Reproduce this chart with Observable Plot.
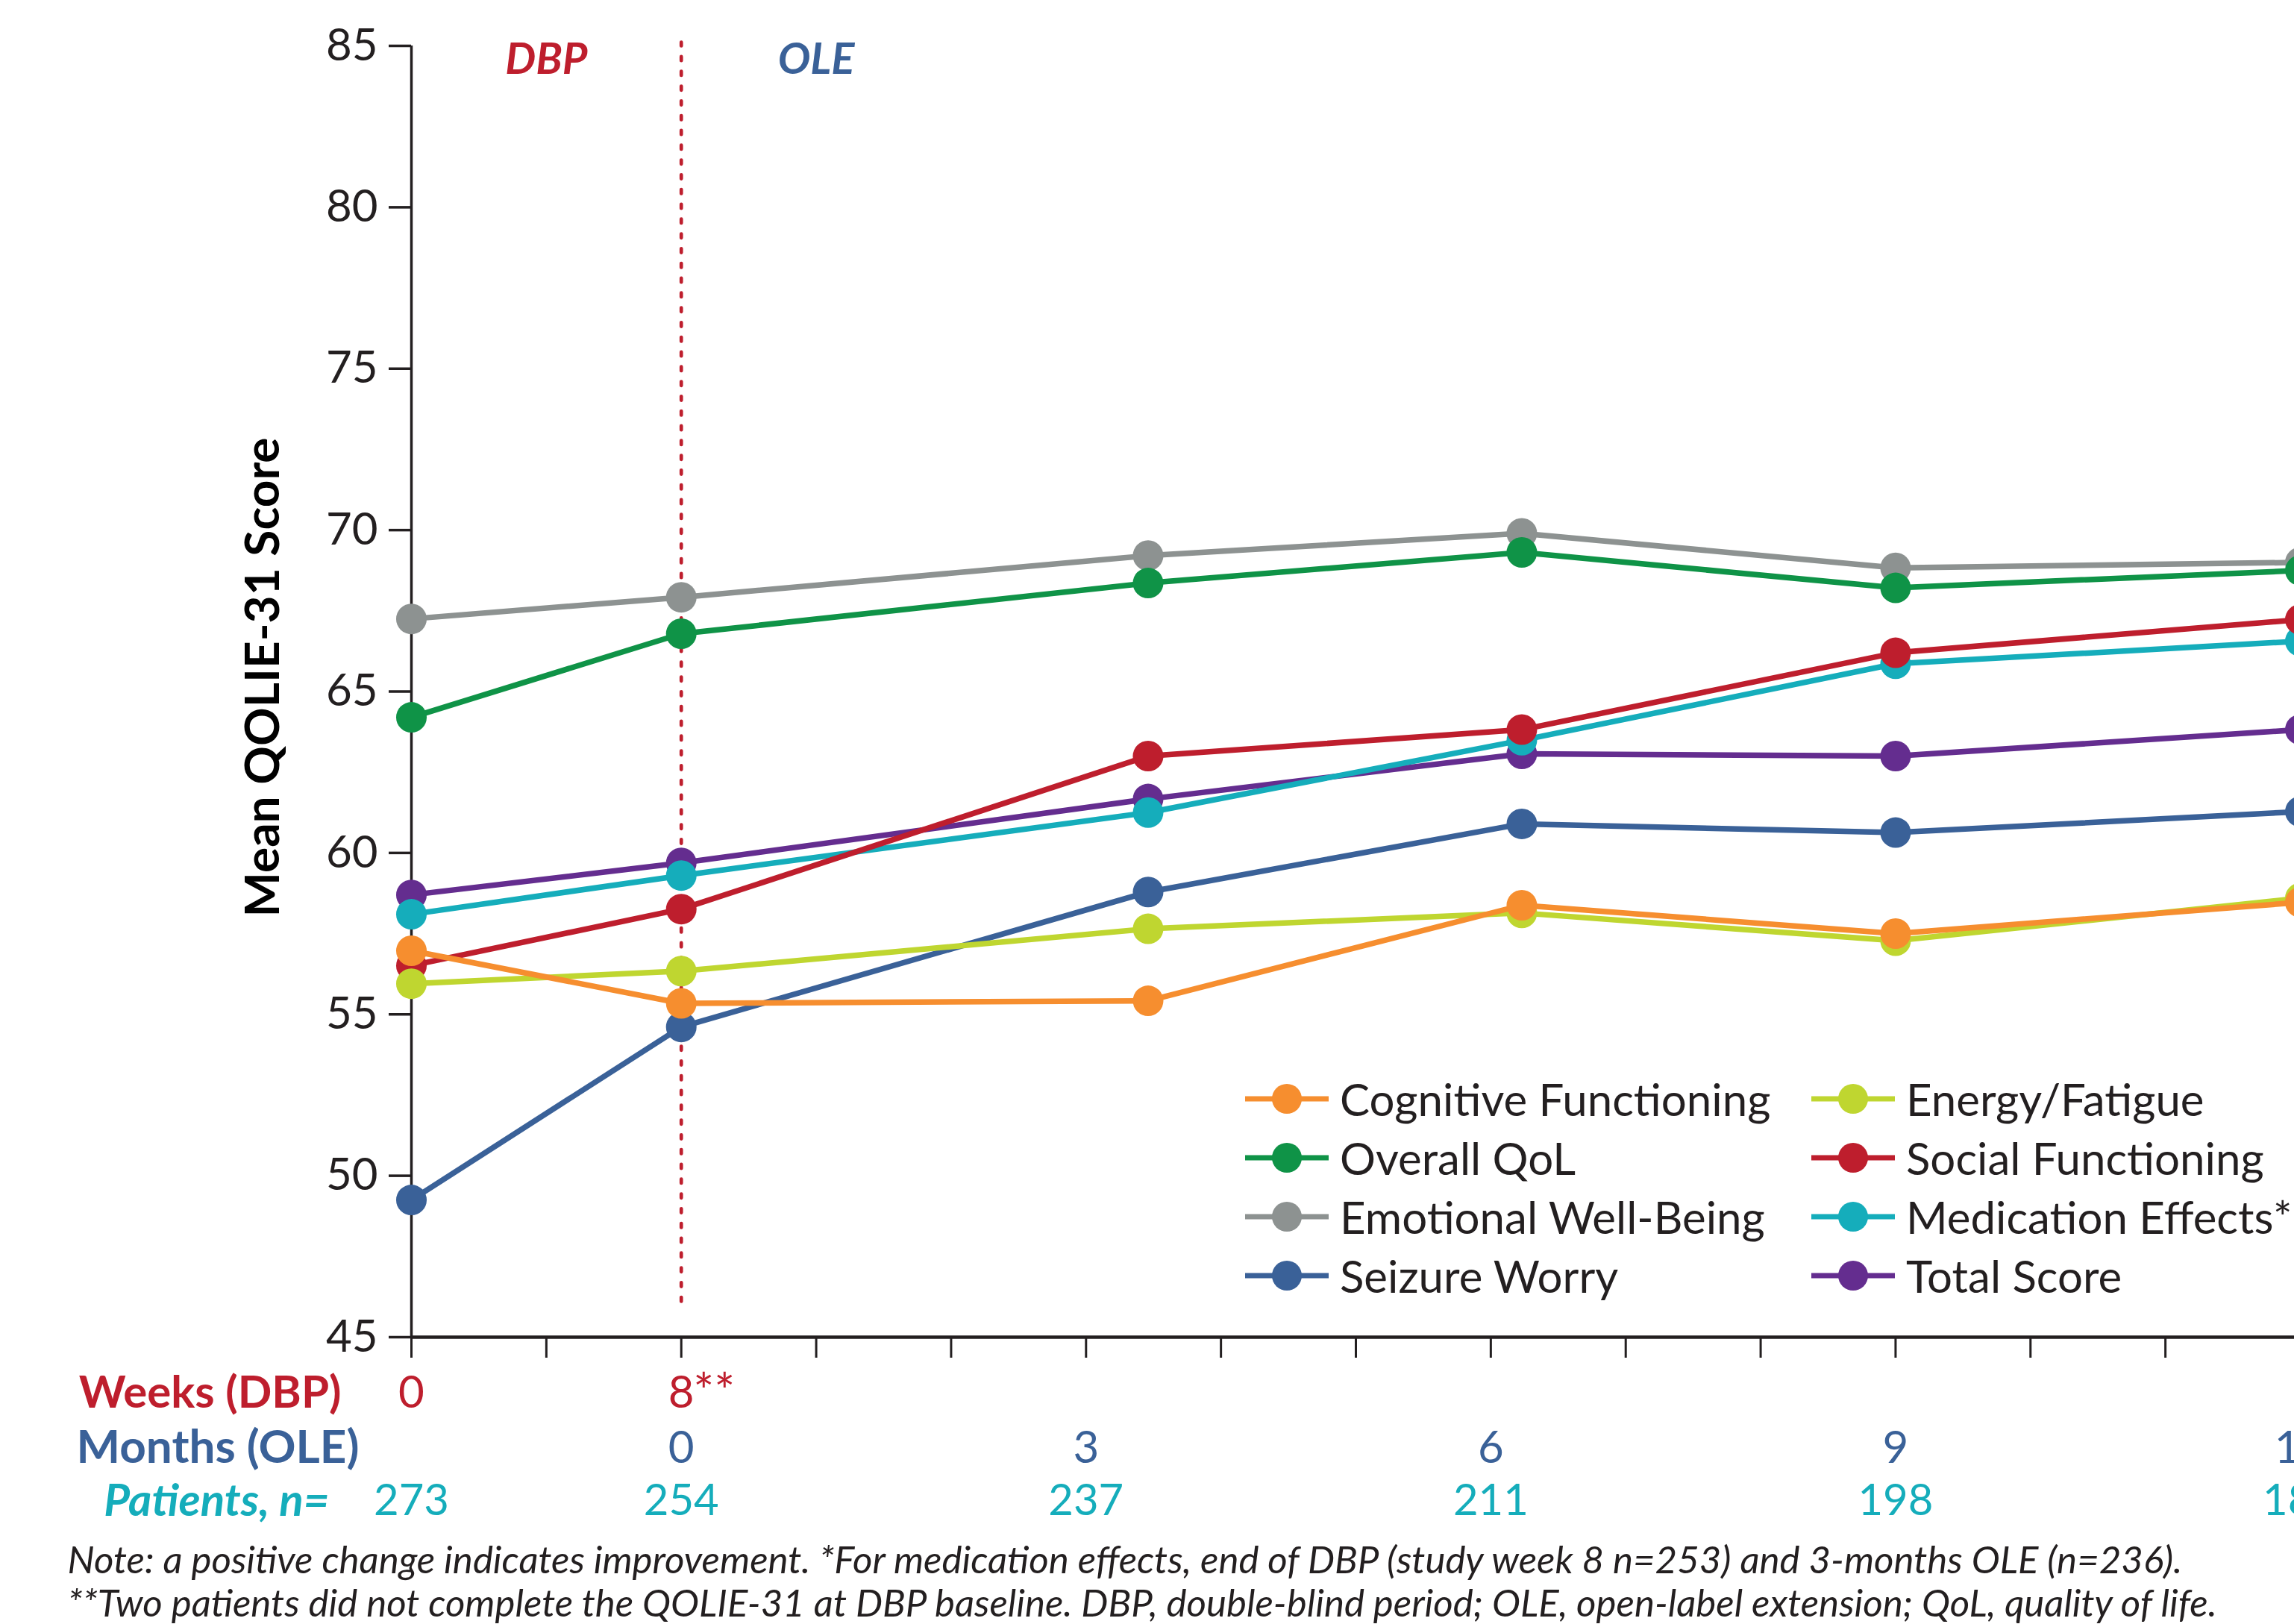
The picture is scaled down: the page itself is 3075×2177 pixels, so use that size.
<!DOCTYPE html>
<html>
<head>
<meta charset="utf-8">
<script src="https://cdn.jsdelivr.net/npm/d3@7"></script>
<script src="https://cdn.jsdelivr.net/npm/@observablehq/plot@0.6"></script>
<style>
  html, body { margin: 0; padding: 0; background: #fff; overflow: hidden; }
  #wrap { position: relative; width: 3075px; height: 2177px; overflow: hidden; }
  #legend { position: absolute; left: 1669px; top: 1433px; display: grid;
    grid-template-columns: 759px auto; grid-auto-rows: 79px;
    font-family: Lato, sans-serif; font-size: 60px; color: #231f20; white-space: nowrap; }
  .item { display: flex; align-items: center; }
  .item svg { margin-right: 15px; flex: none; }
</style>
</head>
<body>
<div id="wrap"><div id="chart"></div><div id="legend"></div></div>
<script>
// ---- data ----
const seriesNames = ["Cognitive Functioning", "Energy/Fatigue", "Overall QoL", "Social Functioning",
  "Emotional Well-Being", "Medication Effects*", "Seizure Worry", "Total Score"];
const seriesColors = ["#f68e2f", "#bfd630", "#0f9347", "#be1e2d", "#8d9291", "#15adbb", "#3a6198", "#642d8f"];
// time of each visit in months relative to OLE start (DBP week 0 = -2 months)
const visitTimes = [-2, 0, 3.46, 6.23, 9, 12];
const cognitive  = [56.97, 55.34, 55.42, 58.38, 57.50, 58.47];
const energy     = [55.95, 56.34, 57.65, 58.14, 57.28, 58.60];
const overall    = [64.20, 66.79, 68.36, 69.31, 68.21, 68.75];
const social     = [56.51, 58.26, 63.00, 63.82, 66.20, 67.23];
const emotional  = [67.25, 67.92, 69.21, 69.90, 68.83, 69.00];
const medication = [58.10, 59.30, 61.25, 63.49, 65.86, 66.56];
const seizure    = [49.25, 54.61, 58.79, 60.90, 60.63, 61.28];
const total      = [58.70, 59.69, 61.67, 63.07, 63.00, 63.82];
const seriesValues = [cognitive, energy, overall, social, emotional, medication, seizure, total];
// drawing order, bottom to top
const drawOrder = ["Total Score", "Medication Effects*", "Social Functioning", "Emotional Well-Being",
  "Overall QoL", "Seizure Worry", "Energy/Fatigue", "Cognitive Functioning"];

const yTicks = [45, 50, 55, 60, 65, 70, 75, 80, 85];
const xTicks = [-2, -1, 0, 1, 2, 3, 4, 5, 6, 7, 8, 9, 10, 11, 12];
const weekTicks = [-2, 0];
const weekLabels = ["0", "8"];
const monthTicks = [0, 3, 6, 9, 12];
const monthLabels = ["0", "3", "6", "9", "12"];
const patientTicks = [-2, 0, 3, 6, 9, 12];
const patientLabels = ["273", "254", "237", "211", "198", "186"];
const footnotes = [
  "Note: a positive change indicates improvement. *For medication effects, end of DBP (study week 8 n=253) and 3-months OLE (n=236).",
  "**Two patients did not complete the QOLIE-31 at DBP baseline. DBP, double-blind period; OLE, open-label extension; QoL, quality of life."
];

// ---- build ----
const rows = [];
seriesNames.forEach((s, i) => seriesValues[i].forEach((v, j) => rows.push({series: s, t: visitTimes[j], v})));
const colorOf = s => seriesColors[seriesNames.indexOf(s)];

const INK = "#231f20", RED = "#be1e2d", BLUE = "#3a6198", CYAN = "#15adbb";
const FONT = "Lato, sans-serif";

const seriesMarks = drawOrder.flatMap(s => {
  const d = rows.filter(r => r.series === s);
  return [
    Plot.line(d, {x: "t", y: "v", stroke: colorOf(s), strokeWidth: 7.5}),
    Plot.dot(d, {x: "t", y: "v", r: 20.5, fill: colorOf(s)})
  ];
});

const chart = Plot.plot({
  width: 3075, height: 2177,
  marginLeft: 551, marginTop: 61, marginBottom: 385, marginRight: 0,
  style: {fontFamily: FONT, background: "transparent", color: INK},
  x: {domain: [-2, 12], range: [551, 3083]},
  y: {domain: [45, 85]},
  marks: [
    Plot.axisY({ticks: yTicks, tickSize: 30, tickPadding: 15, fontSize: 60, strokeWidth: 3.5, color: INK, label: null}),
    Plot.ruleX([-2], {y1: 45, y2: 85, stroke: INK, strokeWidth: 3.5}),
    Plot.axisX({ticks: xTicks, tickSize: 28, tickFormat: () => "", strokeWidth: 3, color: INK, label: null}),
    Plot.ruleY([45], {stroke: INK, strokeWidth: 4.5}),
    Plot.ruleX([0], {y1: 46.1, y2: 85.1, stroke: RED, strokeWidth: 4.7, strokeDasharray: "5.3,14.5", strokeLinecap: "round"}),
    Plot.text(["DBP"], {x: [-1], text: d => d, frameAnchor: "top", dy: 19, lineAnchor: "middle",
      fontSize: 58, fontWeight: "bold", fontStyle: "italic", fill: RED}),
    Plot.text(["OLE"], {x: [1], text: d => d, frameAnchor: "top", dy: 19, lineAnchor: "middle",
      fontSize: 58, fontWeight: "bold", fontStyle: "italic", fill: BLUE}),
    Plot.text(["Mean QOLIE-31 Score"], {text: d => d, frameAnchor: "left", textAnchor: "middle", rotate: -90, dx: -198, dy: -19,
      lineAnchor: "middle", fontSize: 64, fontWeight: "bold", fill: "#000"}),
    ...seriesMarks,
    // rows under the axis
    Plot.text(weekLabels, {x: weekTicks, text: d => d, frameAnchor: "bottom", dy: 75, lineAnchor: "middle", fontSize: 60, fill: RED}),
    Plot.text(["**"], {x: [0], text: d => d, frameAnchor: "bottom", dy: 75, dx: 16, textAnchor: "start", lineAnchor: "middle", fontSize: 66, fill: RED}),
    Plot.text(["Weeks (DBP)"], {x: [-2], text: d => d, frameAnchor: "bottom", dy: 75, dx: -94, textAnchor: "end", lineAnchor: "middle", fontSize: 60, fontWeight: "bold", fill: RED}),
    Plot.text(monthLabels, {x: monthTicks, text: d => d, frameAnchor: "bottom", dy: 149, lineAnchor: "middle", fontSize: 60, fill: BLUE}),
    Plot.text(["Months (OLE)"], {x: [-2], text: d => d, frameAnchor: "bottom", dy: 149, dx: -70, textAnchor: "end", lineAnchor: "middle", fontSize: 62, fontWeight: "bold", fill: BLUE}),
    Plot.text(patientLabels, {x: patientTicks, text: d => d, frameAnchor: "bottom", dy: 220, lineAnchor: "middle", fontSize: 58, fill: CYAN}),
    Plot.text(["Patients, n="], {x: [-2], text: d => d, frameAnchor: "bottom", dy: 220, dx: -110, textAnchor: "end", lineAnchor: "middle", fontSize: 60, fontWeight: "bold", fontStyle: "italic", fill: CYAN}),
    Plot.text([footnotes[0]], {x: [-2], text: d => d, frameAnchor: "bottom", dy: 300, dx: -461, textAnchor: "start", lineAnchor: "middle", fontSize: 51, fontStyle: "italic", fill: INK}),
    Plot.text([footnotes[1]], {x: [-2], text: d => d, frameAnchor: "bottom", dy: 358, dx: -461, textAnchor: "start", lineAnchor: "middle", fontSize: 51, fontStyle: "italic", fill: INK})
  ]
});
document.getElementById("chart").appendChild(chart);

// legend
const legend = document.getElementById("legend");
seriesNames.forEach((s, i) => {
  const c = seriesColors[i];
  const item = document.createElement("div");
  item.className = "item";
  item.innerHTML = `<svg width="112" height="42"><line x1="0" x2="112" y1="21" y2="21" stroke="${c}" stroke-width="7"/><circle cx="56" cy="21" r="20" fill="${c}"/></svg><span>${s}</span>`;
  legend.appendChild(item);
});
</script>
</body>
</html>
